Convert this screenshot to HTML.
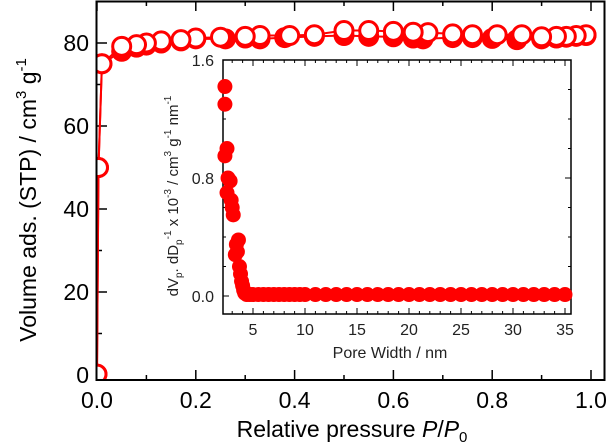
<!DOCTYPE html>
<html><head><meta charset="utf-8"><style>
html,body{margin:0;padding:0;background:#fff;}
svg{display:block;font-family:"Liberation Sans",Arial,sans-serif;}
</style></head><body>
<svg id="chart" width="610" height="442" viewBox="0 0 610 442" xmlns="http://www.w3.org/2000/svg">
<defs><clipPath id="mainclip"><rect x="97" y="2" width="507" height="377"/></clipPath></defs>
<g id="main"></g>
<g id="inset"></g>
</svg>
<script>
// Main isotherm data
const adsP = [0.0, 0.003, 0.01, 0.05, 0.08, 0.1, 0.13, 0.17, 0.2, 0.26, 0.3, 0.33, 0.38, 0.44, 0.5, 0.55, 0.6, 0.64, 0.66, 0.72, 0.76, 0.8, 0.85, 0.9, 0.93, 0.95, 0.97, 0.99];
const adsV = [0.2, 50, 75, 78, 79, 79.5, 80, 80.5, 81, 81, 81.2, 81, 81.3, 81.6, 81.8, 81.6, 81.5, 81.2, 81, 81.3, 81.3, 81.1, 80.8, 81, 81.2, 81.4, 81.6, 81.8];
const desP = [0.99, 0.97, 0.95, 0.93, 0.9, 0.86, 0.81, 0.76, 0.72, 0.67, 0.64, 0.6, 0.55, 0.5, 0.44, 0.39, 0.33, 0.3, 0.25, 0.2, 0.17, 0.13, 0.1, 0.08, 0.05, 0.01, 0.003, 0.0];
const desV = [82, 81.8, 81.6, 81.6, 81.5, 82, 82, 82, 82.2, 82.5, 82.6, 82.8, 83, 83, 82, 81.8, 81.8, 81.6, 81.4, 81.2, 80.8, 80.5, 80, 79.6, 79.2, 75, 50, 0.2];
const xTicks = [0, 0.2, 0.4, 0.6, 0.8, 1.0];
const xTickLabels = ["0.0", "0.2", "0.4", "0.6", "0.8", "1.0"];
const yTicks = [0, 20, 40, 60, 80];
const yTickLabels = ["0", "20", "40", "60", "80"];
// Inset PSD data
const poreW = [2.3, 2.3, 2.5, 2.3, 2.6, 2.8, 2.5, 2.9, 3.0, 3.1, 3.4, 3.6, 3.3, 3.5, 3.7, 3.8, 3.9, 4.0, 4.1, 4.2, 4.4, 4.7, 5.0, 5.5, 6.0, 6.5, 7, 7.5, 8, 8.5, 9, 9.5, 10, 11, 12, 13, 14, 15, 16, 17, 18, 19, 20, 21, 22, 23, 24, 25, 26, 27, 28, 29, 30, 31, 32, 33, 34, 35];
const dvdd = [1.42, 1.30, 1.00, 0.95, 0.80, 0.78, 0.70, 0.65, 0.60, 0.55, 0.35, 0.38, 0.28, 0.30, 0.20, 0.15, 0.10, 0.07, 0.04, 0.02, 0.01, 0.01, 0.01, 0.01, 0.01, 0.01, 0.01, 0.01, 0.01, 0.01, 0.01, 0.01, 0.01, 0.01, 0.01, 0.01, 0.01, 0.01, 0.01, 0.01, 0.01, 0.01, 0.01, 0.01, 0.01, 0.01, 0.01, 0.01, 0.01, 0.01, 0.01, 0.01, 0.01, 0.01, 0.01, 0.01, 0.01, 0.01];
const ixTicks = [5, 10, 15, 20, 25, 30, 35];
const iyTicks = [0, 0.8, 1.6];
const iyTickLabels = ["0.0", "0.8", "1.6"];

const NS = "http://www.w3.org/2000/svg";
function mk(parent, tag, attrs, text){
  const e = document.createElementNS(NS, tag);
  for (const k in attrs) e.setAttribute(k, attrs[k]);
  if (text !== undefined) e.textContent = text;
  parent.appendChild(e);
  return e;
}
const main = document.getElementById("main");
const X = p => 97 + p * 494;
const Y = v => 375 - v * 4.15;

xTicks.forEach((t, i) => {
  mk(main, "line", {x1:X(t), x2:X(t), y1:380, y2:370, stroke:"#000", "stroke-width":1.5});
  mk(main, "line", {x1:X(t), x2:X(t), y1:1, y2:11, stroke:"#000", "stroke-width":1.5});
  if (i < xTicks.length - 1) {
    mk(main, "line", {x1:X(t+0.1), x2:X(t+0.1), y1:380, y2:375, stroke:"#000", "stroke-width":1.5});
    mk(main, "line", {x1:X(t+0.1), x2:X(t+0.1), y1:1, y2:6, stroke:"#000", "stroke-width":1.5});
  }
  const tl = mk(main, "text", {x:X(t), y:408, "font-size":23, "text-anchor":"middle"}, xTickLabels[i]);
  
  
});
yTicks.forEach((t, i) => {
  mk(main, "line", {x1:97, x2:107, y1:Y(t), y2:Y(t), stroke:"#000", "stroke-width":1.5});
  mk(main, "line", {x1:97, x2:102, y1:Y(t+10), y2:Y(t+10), stroke:"#000", "stroke-width":1.5});
  const tl = mk(main, "text", {x:89, y:Y(t)+8, "font-size":23, "text-anchor":"end"}, yTickLabels[i]);
  
  
});
const xt = mk(main, "text", {x:352, y:437, "font-size":23, "text-anchor":"middle"});
xt.innerHTML = 'Relative pressure <tspan font-style="italic">P</tspan>/<tspan font-style="italic">P</tspan><tspan font-size="15" dy="5">0</tspan>';


const yt = mk(main, "text", {x:0, y:0, "font-size":23, "text-anchor":"middle", transform:"translate(36,200) rotate(-90)"});
yt.innerHTML = 'Volume ads. (STP) / cm<tspan font-size="15" dy="-10">3</tspan><tspan dy="10"> g</tspan><tspan font-size="15" dy="-10">-1</tspan>';



const series = mk(main, "g", {"clip-path":"url(#mainclip)"});


const adsLine = mk(series, "polyline", {points: adsP.map((p,i)=>X(p)+","+Y(adsV[i])).join(" "), fill:"none", stroke:"#f00", "stroke-width":2});


const desLine = mk(series, "polyline", {points: desP.map((p,i)=>X(p)+","+Y(desV[i])).join(" "), fill:"none", stroke:"#f00", "stroke-width":2});


adsP.forEach((p,i)=>{
  const c = mk(series, "circle", {cx:X(p), cy:Y(adsV[i]), r:10.5, fill:"#f00"});
  
  
});
desP.forEach((p,i)=>{
  const c = mk(series, "circle", {cx:X(p), cy:Y(desV[i]), r:9, fill:"#fff", stroke:"#f00", "stroke-width":3});
  
  
});
const fr = mk(main, "rect", {x:96.5, y:1.5, width:508, height:378.5, fill:"none", stroke:"#000", "stroke-width":2});



// inset
const inset = document.getElementById("inset");
const IX = w => 201 + w * 10.4;
const IY = v => 296 - v * 147.5;
const ibg = mk(inset, "rect", {x:223, y:60, width:348, height:254, fill:"#fff", stroke:"#000", "stroke-width":1.5});


for (let w = 3; w <= 35; w++) {
  const len = (w % 5 === 0) ? 6 : 3;
  mk(inset, "line", {x1:IX(w), x2:IX(w), y1:314, y2:314-len, stroke:"#000", "stroke-width":1});
  mk(inset, "line", {x1:IX(w), x2:IX(w), y1:60, y2:60+len, stroke:"#000", "stroke-width":1});
}
ixTicks.forEach(t=>{
  const tl = mk(inset, "text", {x:IX(t), y:335, "font-size":16, "text-anchor":"middle", fill:"#222"}, String(t));
  
  
});
for (let v = 0; v <= 1.6001; v += 0.2) {
  const len = (Math.round(v*10) % 8 === 0) ? 6 : 3;
  mk(inset, "line", {x1:223, x2:223+len, y1:IY(v), y2:IY(v), stroke:"#000", "stroke-width":1});
  mk(inset, "line", {x1:571, x2:571-len, y1:IY(v), y2:IY(v), stroke:"#000", "stroke-width":1});
}
iyTicks.forEach((t,i)=>{
  const tl = mk(inset, "text", {x:214, y:IY(t)+6, "font-size":16, "text-anchor":"end", fill:"#222"}, iyTickLabels[i]);
  
  
});
const ixt = mk(inset, "text", {x:390, y:358, "font-size":16, "text-anchor":"middle", fill:"#222"}, "Pore Width / nm");


const iyt = mk(inset, "text", {x:0, y:0, "font-size":15, "text-anchor":"middle", fill:"#222", transform:"translate(178,196) rotate(-90)"});
iyt.innerHTML = 'dV<tspan font-size="10" dy="4">p</tspan><tspan dy="-4">. dD</tspan><tspan font-size="10" dy="4">p</tspan><tspan font-size="10" dy="-11">-1</tspan><tspan dy="7"> x 10</tspan><tspan font-size="10" dy="-7">-3</tspan><tspan dy="7"> / cm</tspan><tspan font-size="10" dy="-7">3</tspan><tspan dy="7"> g</tspan><tspan font-size="10" dy="-7">-1</tspan><tspan dy="7"> nm</tspan><tspan font-size="10" dy="-7">-1</tspan>';


poreW.forEach((w,i)=>{
  const c = mk(inset, "circle", {cx:IX(w), cy:IY(dvdd[i]), r:7.5, fill:"#f00"});
  
  
});
</script>
</body></html>
